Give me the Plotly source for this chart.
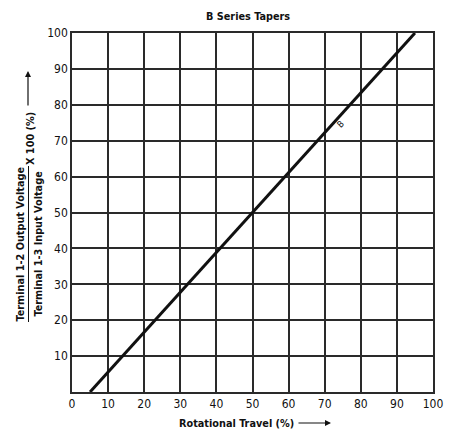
import plotly.graph_objects as go

rotation = [5, 95]
output_pct = [0, 100]
x_ticks = [0, 10, 20, 30, 40, 50, 60, 70, 80, 90, 100]
y_ticks = [10, 20, 30, 40, 50, 60, 70, 80, 90, 100]
curve_label = "B"
label_pos = (74.5, 74.6)

OFF = 8  # page body margin
W, H = 456 - OFF, 430 - OFF
L, R, T, B = 64, 23, 25, 38
PW, PH = W - L - R, H - T - B

def px(xs):
    return (xs - OFF - L) / PW

def py(ys):
    return (H - B - (ys - OFF)) / PH

FONT = "Liberation Sans Narrow, DejaVu Sans Condensed, Arial Narrow, Liberation Sans, Arial"
GRID = "#2a2a2a"
TS = 10.8

fig = go.Figure()
fig.add_trace(go.Scatter(x=rotation, y=output_pct, mode="lines",
                         line=dict(color="#111111", width=3), showlegend=False,
                         hoverinfo="skip"))

fig.update_layout(
    width=W, height=H,
    margin=dict(l=L, r=R, t=T, b=B),
    paper_bgcolor="white", plot_bgcolor="white",
    font=dict(family=FONT, color="#111111", size=12),
    showlegend=False,
)
fig.update_xaxes(range=[0, 100], tickvals=x_ticks, ticktext=[str(v) for v in x_ticks],
                 showgrid=True, gridcolor=GRID, gridwidth=1.5,
                 showline=True, linecolor=GRID, linewidth=1.5, mirror=True,
                 ticks="", zeroline=False, tickfont=dict(size=12))
fig.update_yaxes(range=[0, 100], tickvals=y_ticks, ticktext=[str(v) for v in y_ticks],
                 showgrid=True, gridcolor=GRID, gridwidth=1.5,
                 showline=True, linecolor=GRID, linewidth=1.5, mirror=True,
                 ticks="", zeroline=False, tickfont=dict(size=12))

ann = []
ann.append(dict(text="<b>B Series Tapers</b>", x=px(248), y=py(16), xref="paper", yref="paper",
                showarrow=False, font=dict(size=TS), xanchor="center", yanchor="middle"))
ann.append(dict(text=curve_label, x=label_pos[0], y=label_pos[1], xref="x", yref="y",
                showarrow=False, textangle=-45, font=dict(size=9)))
ann.append(dict(text="<b>Rotational Travel (%)</b>", x=px(296), y=py(423), xref="paper", yref="paper",
                showarrow=False, xanchor="right", yanchor="middle", font=dict(size=TS)))
ann.append(dict(text="", x=px(331), y=py(423), xref="paper", yref="paper",
                showarrow=True, ax=-34, ay=0, arrowhead=2, arrowsize=1, arrowwidth=1.2,
                arrowcolor="#111111"))
ann.append(dict(text="<b>Terminal 1-2 Output Voltage</b>", x=px(19.5), y=py(244), xref="paper", yref="paper",
                showarrow=False, textangle=-90, xanchor="center", yanchor="middle", font=dict(size=TS)))
ann.append(dict(text="<b>Terminal 1-3 Input Voltage</b>", x=px(37.5), y=py(244), xref="paper", yref="paper",
                showarrow=False, textangle=-90, xanchor="center", yanchor="middle", font=dict(size=TS)))
ann.append(dict(text="<b>X 100 (%)</b>", x=px(30), y=py(139), xref="paper", yref="paper",
                showarrow=False, textangle=-90, xanchor="center", yanchor="middle", font=dict(size=TS)))
ann.append(dict(text="", x=px(28), y=py(71), xref="paper", yref="paper",
                showarrow=True, ax=0, ay=36, arrowhead=2, arrowsize=1, arrowwidth=1.2,
                arrowcolor="#111111"))
fig.update_layout(annotations=ann)

fig.add_shape(type="line", xref="paper", yref="paper",
              x0=px(28.5), x1=px(28.5), y0=py(166), y1=py(322),
              line=dict(color="#111111", width=1))

fig.write_html("out.html")
